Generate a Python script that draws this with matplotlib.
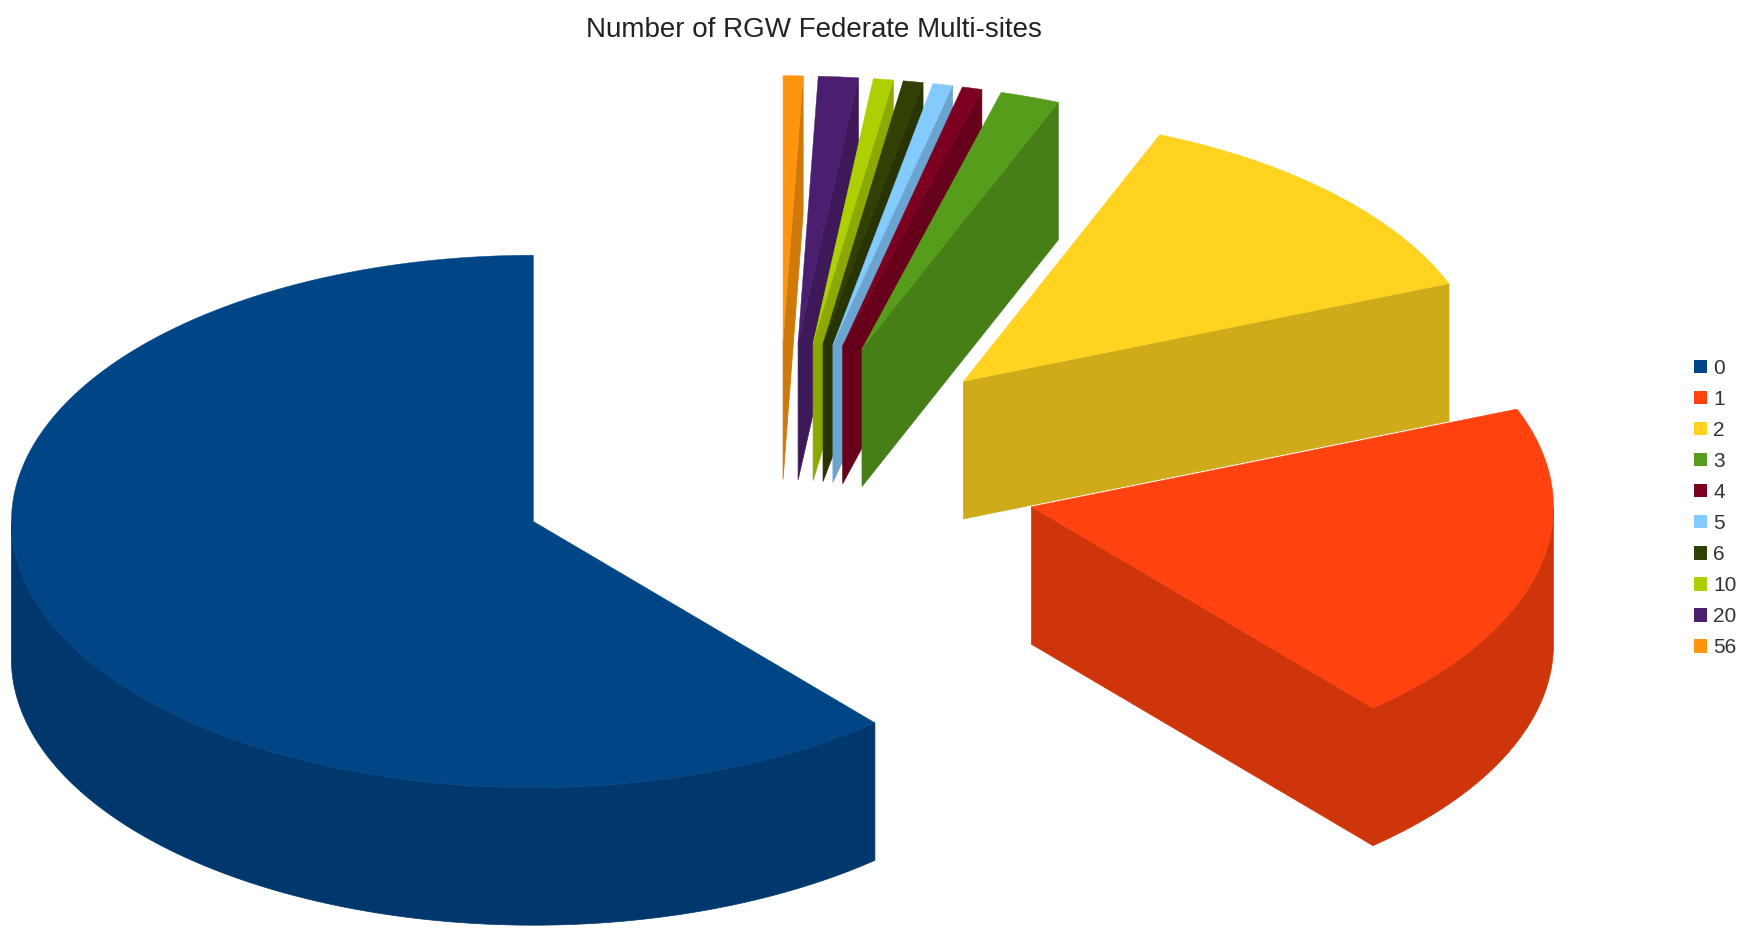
import numpy as np
import matplotlib
matplotlib.use("Agg")
import matplotlib.pyplot as plt
from matplotlib.patches import Patch

plt.rcParams["font.family"] = ["Liberation Sans", "DejaVu Sans"]

# legend label = number of multi-sites, counts
categories = ["0", "1", "2", "3", "4", "5", "6", "10", "20", "56"]
counts = [100, 32, 21, 3, 1, 1, 1, 1, 2, 1]
colors = ["#004586", "#ff420e", "#ffd320", "#579d1c", "#7e0021",
          "#83caff", "#314004", "#aecf00", "#4b1f6f", "#ff950e"]

# pie geometry in figure pixels
centerX, centerY = 778, 475
radius = 522
squash = 0.51
depth = 137.5
explode = 261
sideShade = 0.81


def screenPoint(angle, r, originX, originY):
    # angle in degrees, counter-clockwise from 12 o'clock
    a = np.radians(angle)
    return originX - r * np.sin(a), originY - r * np.cos(a) * squash


def shade(color):
    rgb = np.array(matplotlib.colors.to_rgb(color))
    return tuple(rgb * sideShade)


def drawSlice(ax, start, end, color):
    mid = (start + end) / 2
    ox, oy = screenPoint(mid, explode, centerX, centerY)
    side = shade(color)

    # flat radial faces, only the ones turned towards the viewer
    for angle, sign in [(start, -1), (end, 1)]:
        if sign * np.sin(np.radians(angle)) > 1e-6:
            ex, ey = screenPoint(angle, radius, ox, oy)
            ax.fill([ox, ex, ex, ox], [oy, ey, ey + depth, oy + depth],
                    color=side, lw=0.5, zorder=1)

    # outer wall, front half of the ellipse only
    wallStart, wallEnd = max(start, 90), min(end, 270)
    if wallEnd > wallStart:
        t = np.linspace(wallStart, wallEnd, 200)
        wx, wy = screenPoint(t, radius, ox, oy)
        ax.fill(np.r_[wx, wx[::-1]], np.r_[wy, wy[::-1] + depth],
                color=side, lw=0.5, zorder=1)

    # top face
    t = np.linspace(start, end, 300)
    tx, ty = screenPoint(t, radius, ox, oy)
    ax.fill(np.r_[ox, tx], np.r_[oy, ty], color=color, lw=0.3, zorder=1)


fig = plt.figure(figsize=(17.44, 9.30), dpi=100)
ax = fig.add_axes([0, 0, 1, 1])
ax.set_xlim(0, 1744)
ax.set_ylim(930, 0)
ax.axis("off")

angles = np.cumsum([0] + counts) / sum(counts) * 360
# back slices first so the nearer ones cover them
for i in reversed(range(len(counts))):
    drawSlice(ax, angles[i], angles[i + 1], colors[i])

ax.text(814, 30, "Number of RGW Federate Multi-sites", fontsize=20,
        color="#222222", ha="center", va="center")

handles = [Patch(facecolor=c, edgecolor="none") for c in colors]
ax.legend(handles, categories, loc="center left", bbox_to_anchor=(1694 / 1744, 1 - 508 / 930),
          frameon=False, fontsize=15, labelcolor="#333333", handlelength=0.62,
          handleheight=0.62, handletextpad=0.3, labelspacing=0.58, borderpad=0,
          borderaxespad=0)

fig.savefig("out.png", dpi=100)
